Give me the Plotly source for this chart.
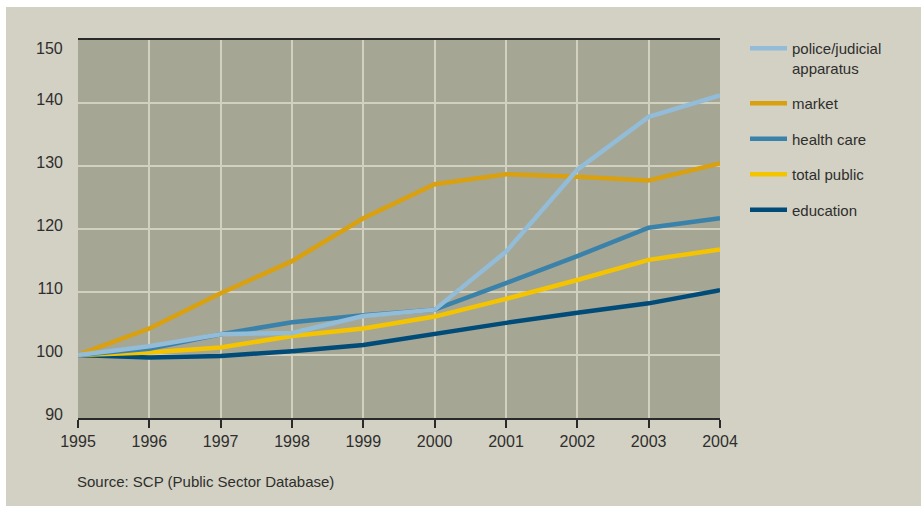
import plotly.graph_objects as go

years = [1995, 1996, 1997, 1998, 1999, 2000, 2001, 2002, 2003, 2004]
police = [100, 101.4, 103.3, 103.5, 106.2, 107.2, 116.4, 129.4, 137.8, 141.2]
market = [100, 104.2, 109.8, 114.9, 121.7, 127.1, 128.7, 128.3, 127.7, 130.4]
health = [100, 101.0, 103.3, 105.2, 106.3, 107.2, 111.4, 115.7, 120.2, 121.7]
total_public = [100, 100.4, 101.2, 103.0, 104.2, 106.1, 108.9, 111.9, 115.1, 116.75]
education = [100, 99.6, 99.85, 100.6, 101.6, 103.4, 105.1, 106.7, 108.2, 110.3]
y_ticks = [90, 100, 110, 120, 130, 140]
y_top = 150

# drawing order (bottom to top), with legend rank
series = [
    ("education", education, "#004b78", 5),
    ("total public", total_public, "#f5c400", 4),
    ("health care", health, "#3a82aa", 3),
    ("market", market, "#d9a00f", 2),
    ("police/judicial<br>apparatus", police, "#92bcd8", 1),
]

W, H = 921, 506
ML, MR, MT, MB = 78, 201, 40, 88
PW, PH = W - ML - MR, H - MT - MB

def px(x):
    return (x - ML) / PW

def py(y):
    return (H - MB - y) / PH

fig = go.Figure()
for name, vals, col, rank in series:
    fig.add_trace(go.Scatter(
        x=years, y=vals, name=name, mode="lines",
        line=dict(color=col, width=4.5), legendgroup=name, legendrank=rank,
    ))

font = "Liberation Sans, Arial, sans-serif"
txt = "#2e2e2e"
fig.update_layout(
    width=W, height=H,
    margin=dict(l=ML, r=MR, t=MT, b=MB),
    paper_bgcolor="#d3d1c3",
    plot_bgcolor="#a6a694",
    font=dict(family=font, size=15, color=txt),
    showlegend=True,
    legend=dict(
        x=px(745), y=py(32), xanchor="left", yanchor="top",
        traceorder="grouped", tracegroupgap=13,
        valign="top", itemwidth=37,
        font=dict(family=font, size=15, color=txt),
        bgcolor="rgba(0,0,0,0)",
    ),
    xaxis=dict(
        range=[years[0], years[-1]], tickmode="array", tickvals=years,
        ticktext=[str(y) for y in years],
        showgrid=True, gridcolor="#d2d0bf", gridwidth=2,
        showline=True, linecolor="#2a2a2a", linewidth=1.5, mirror=True,
        ticks="outside", ticklen=8, tickcolor="#2a2a2a", tickwidth=1.5,
        tickfont=dict(size=16), zeroline=False,
    ),
    yaxis=dict(
        range=[90, y_top], tickmode="array", tickvals=y_ticks,
        showgrid=True, gridcolor="#d2d0bf", gridwidth=2,
        showline=False, ticks="", ticklabelstandoff=14, ticklabelshift=-4,
        tickfont=dict(size=16), zeroline=False,
    ),
    shapes=[
        dict(type="rect", xref="paper", yref="paper",
             x0=px(0), x1=px(6), y0=py(H), y1=py(0),
             fillcolor="white", line=dict(width=0)),
        dict(type="rect", xref="paper", yref="paper",
             x0=px(0), x1=px(W), y0=py(7), y1=py(0),
             fillcolor="white", line=dict(width=0)),
    ],
    annotations=[
        dict(text="Source: SCP (Public Sector Database)", xref="paper", yref="paper",
             x=px(75), y=py(481), xanchor="left", yanchor="middle",
             showarrow=False, font=dict(size=15, color=txt)),
        dict(text=str(y_top), xref="paper", yref="y",
             x=px(65), y=y_top, xanchor="right", yanchor="middle", yshift=-8,
             showarrow=False, font=dict(size=16, color=txt)),
    ],
)

fig.write_html("out.html", post_script="document.body.style.margin='0';",
               config={"displayModeBar": False})
